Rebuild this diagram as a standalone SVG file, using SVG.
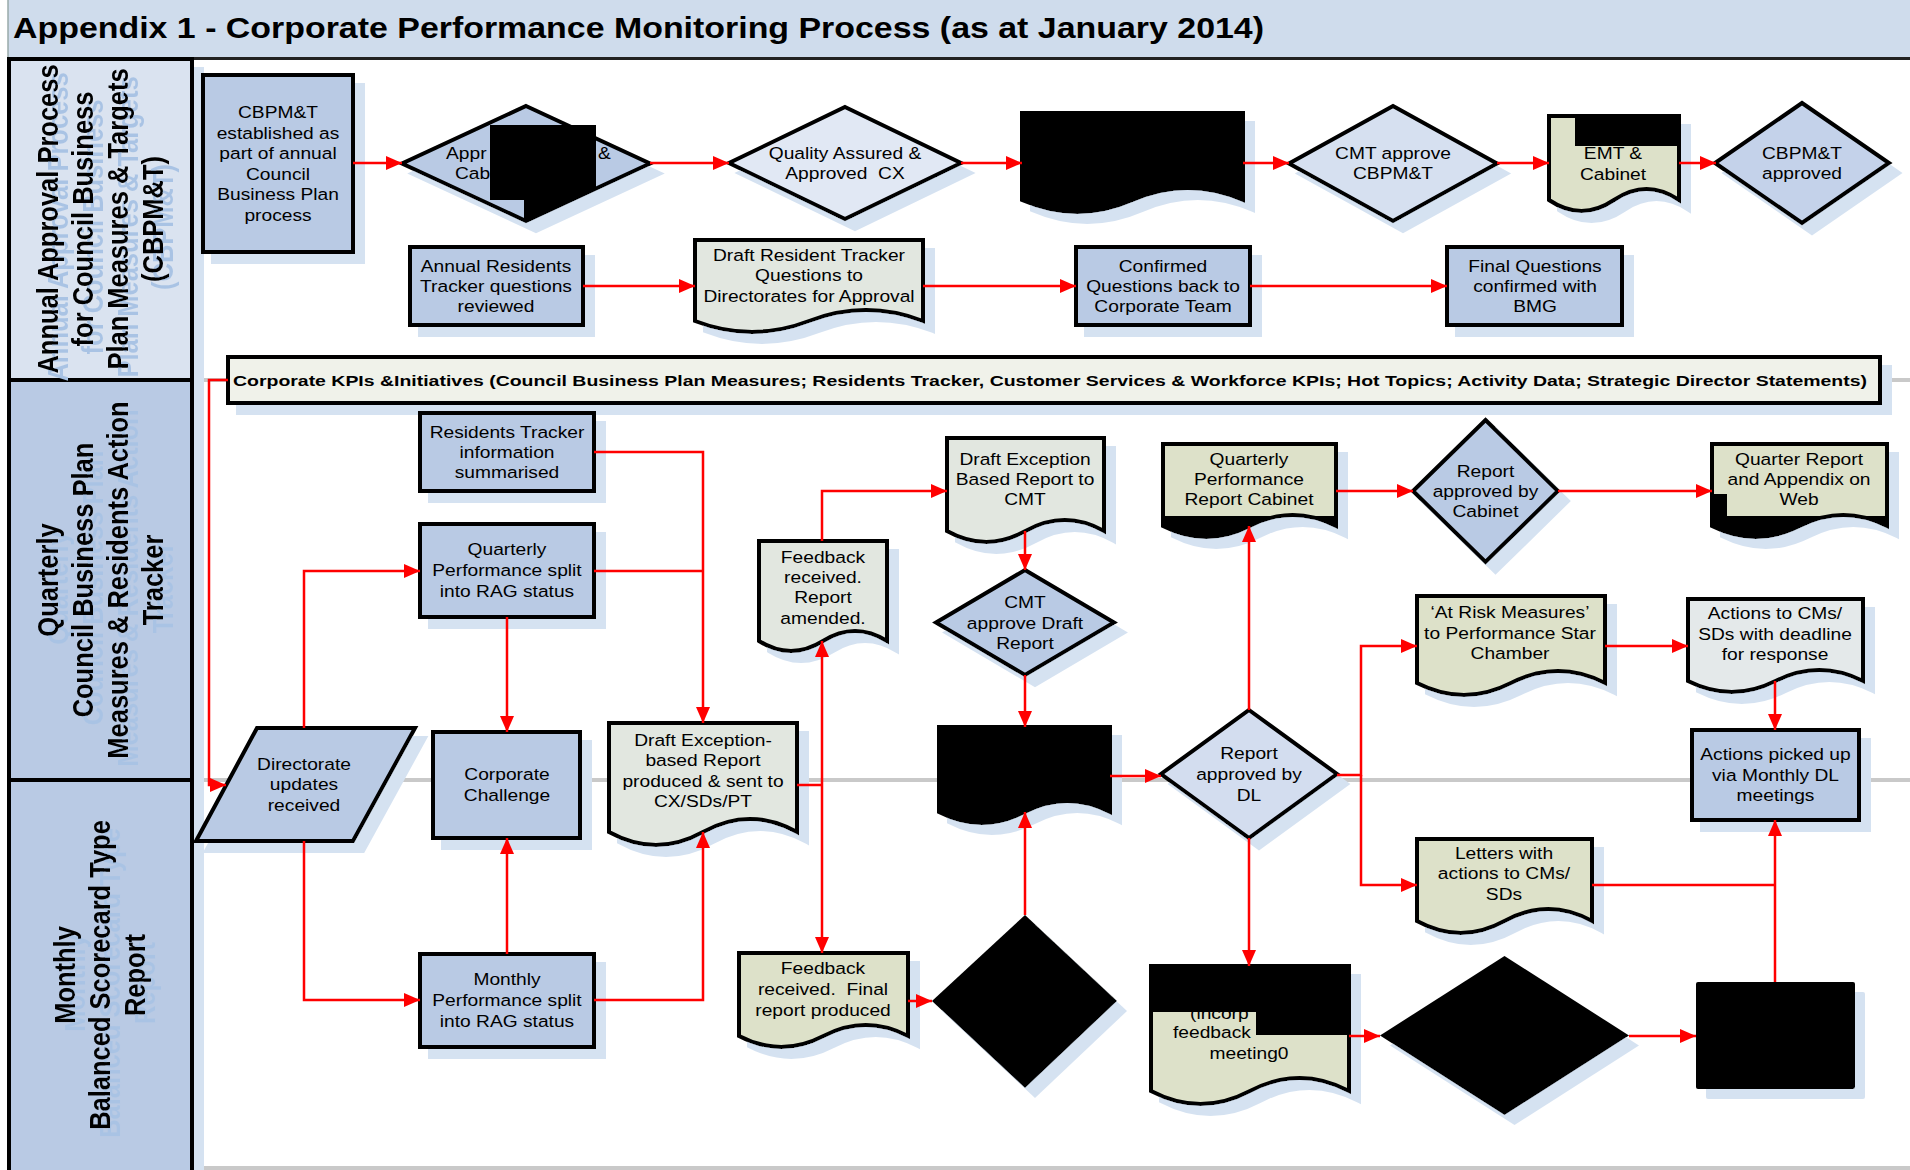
<svg xmlns="http://www.w3.org/2000/svg" width="1910" height="1170" viewBox="0 0 1910 1170">
<style>
.t{font-family:"Liberation Sans",Arial,sans-serif;font-size:17px;fill:#000;text-anchor:middle}
.ts{font-family:"Liberation Sans",Arial,sans-serif;font-size:17px;fill:#000;text-anchor:start}
.lane{font-family:"Liberation Sans",Arial,sans-serif;font-size:25.5px;font-weight:bold;fill:#000;text-anchor:middle}
.s{stroke:#000;stroke-width:4;stroke-linejoin:miter}
.mb{fill:#b9cae4}
.gr{fill:#e2e7e0}
.be{fill:#dde1c9}
.bk{fill:#000}
.c{fill:none;stroke:#ff0000;stroke-width:2.5}
.ca{fill:none;stroke:#ff0000;stroke-width:2.5;marker-end:url(#ah)}
.sep{stroke:#c9c9c9;stroke-width:4}
</style>
<defs>
<marker id="ah" viewBox="0 0 16 14" refX="16" refY="7" markerWidth="16" markerHeight="14" markerUnits="userSpaceOnUse" orient="auto"><path d="M0,0 L16,7 L0,14 Z" fill="#ff0000"/></marker>
<filter id="sh" x="-10%" y="-10%" width="130%" height="140%"><feFlood flood-color="#d5e2f1"/><feComposite in2="SourceAlpha" operator="in"/><feOffset dx="10" dy="10" result="s"/><feMerge><feMergeNode in="s"/><feMergeNode in="SourceGraphic"/></feMerge></filter>
<filter id="tsh" x="-10%" y="-10%" width="130%" height="130%"><feFlood flood-color="#a9c3e4"/><feComposite in2="SourceAlpha" operator="in"/><feOffset dx="10" dy="8" result="s"/><feMerge><feMergeNode in="s"/><feMergeNode in="SourceGraphic"/></feMerge></filter>
<clipPath id="cp8"><path d="M1163,444 H1336 V526 Q1292.8,504 1249.5,526 Q1206.3,548 1163,526 Z"/></clipPath>
<clipPath id="cp9"><path d="M1712,444 H1887 V526 Q1843.3,504 1799.5,526 Q1755.8,548 1712,526 Z"/></clipPath>
</defs>
<rect x="0" y="0" width="1910" height="1170" fill="#fff"/>

<g id="title">
<rect x="8" y="0" width="1902" height="58" fill="#cfdcec"/>
<line x1="8" y1="0" x2="8" y2="58" stroke="#9aa" stroke-width="1.5"/>
<line x1="8" y1="58.5" x2="1910" y2="58.5" stroke="#222" stroke-width="3"/>
<text x="13" y="38" font-family="Liberation Sans, Arial, sans-serif" font-size="29" font-weight="bold" textLength="1251" lengthAdjust="spacingAndGlyphs">Appendix 1 - Corporate Performance Monitoring Process (as at January 2014)</text>
</g>

<g id="separators">
<line class="sep" x1="194" y1="380" x2="1910" y2="380"/>
<line class="sep" x1="194" y1="780" x2="1910" y2="780"/>
<line class="sep" x1="194" y1="1168" x2="1910" y2="1168"/>
</g>

<g id="lanes">
<g filter="url(#sh)">
<rect class="s" x="9" y="59" width="183" height="321" fill="#dae3f0"/>
<rect class="s" x="9" y="380" width="183" height="400" fill="#b9cae4"/>
<rect class="s" x="9" y="780" width="183" height="394" fill="#b9cae4"/>
</g>
<g filter="url(#tsh)">
<text class="lane" transform="translate(100,219) scale(1.13,1) rotate(-90)"><tspan x="0" y="-37.5">Annual Approval Process</tspan><tspan x="0" y="-6.5">for Council Business</tspan><tspan x="0" y="24.5">Plan Measures &amp; Targets</tspan><tspan x="0" y="55.5">(CBPM&amp;T)</tspan></text>
<text class="lane" transform="translate(100,580) scale(1.13,1) rotate(-90)"><tspan x="0" y="-37.5">Quarterly</tspan><tspan x="0" y="-6.5">Council Business Plan</tspan><tspan x="0" y="24.5">Measures &amp; Residents Action</tspan><tspan x="0" y="55.5">Tracker</tspan></text>
<text class="lane" transform="translate(100,975) scale(1.13,1) rotate(-90)"><tspan x="0" y="-22">Monthly</tspan><tspan x="0" y="9">Balanced Scorecard Type</tspan><tspan x="0" y="40">Report</tspan></text>
</g>
</g>

<g id="n-cbpmt-established">
<rect class="s mb" x="203" y="75" width="150" height="177" filter="url(#sh)"/>
<text class="t" transform="translate(278,0) scale(1.13,1)"><tspan x="0" y="118">CBPM&amp;T</tspan><tspan x="0" y="138.6">established as</tspan><tspan x="0" y="159.2">part of annual</tspan><tspan x="0" y="179.8">Council</tspan><tspan x="0" y="200.4">Business Plan</tspan><tspan x="0" y="221">process</tspan></text>
</g>

<g id="n-approved-emt-cabinet">
<polygon class="s mb" points="526,106 650,163.5 526,221 402,163.5" filter="url(#sh)"/>
<text class="ts" transform="translate(446,0) scale(1.13,1)"><tspan x="0" y="159">Appr</tspan></text>
<text class="ts" transform="translate(455,0) scale(1.13,1)"><tspan x="0" y="179">Cab</tspan></text>
<text class="ts" transform="translate(598,0) scale(1.13,1)"><tspan x="0" y="159">&amp;</tspan></text>
<polygon class="bk" points="490,125 596,125 596,188 526,221 524,220 524,200 490,200"/>
</g>

<g id="n-quality-assured">
<polygon class="s" fill="#e1e8f4" points="845,107 961,163 845,219 729,163" filter="url(#sh)"/>
<text class="t" transform="translate(845,0) scale(1.13,1)" xml:space="preserve"><tspan x="0" y="159">Quality Assured &amp;</tspan><tspan x="0" y="179">Approved  CX</tspan></text>
</g>

<g id="n-redacted-doc-1">
<path class="s bk" d="M1022,113 H1243 V200 Q1187.8,176 1132.5,200 Q1077.3,224 1022,200 Z" filter="url(#sh)"/>
</g>

<g id="n-cmt-approve-cbpmt">
<polygon class="s" fill="#d6e0f0" points="1393,106 1497,163.5 1393,221 1289,163.5" filter="url(#sh)"/>
<text class="t" transform="translate(1393,0) scale(1.13,1)"><tspan x="0" y="159">CMT approve</tspan><tspan x="0" y="179">CBPM&amp;T</tspan></text>
</g>

<g id="n-emt-cabinet">
<path class="s be" d="M1549,116 H1679 V200 Q1646.5,178 1614,200 Q1581.5,222 1549,200 Z" filter="url(#sh)"/>
<text class="t" transform="translate(1613,0) scale(1.13,1)"><tspan x="0" y="159">EMT &amp;</tspan><tspan x="0" y="180">Cabinet</tspan></text>
<rect class="bk" x="1575" y="114" width="106" height="32"/>
</g>

<g id="n-cbpmt-approved">
<polygon class="s" fill="#c4d2ea" points="1802,103 1889,163 1802,223 1715,163" filter="url(#sh)"/>
<text class="t" transform="translate(1802,0) scale(1.13,1)"><tspan x="0" y="159">CBPM&amp;T</tspan><tspan x="0" y="179">approved</tspan></text>
</g>

<g id="n-annual-residents">
<rect class="s mb" x="410" y="247" width="173" height="78" filter="url(#sh)"/>
<text class="t" transform="translate(496,0) scale(1.13,1)"><tspan x="0" y="272">Annual Residents</tspan><tspan x="0" y="292">Tracker questions</tspan><tspan x="0" y="312">reviewed</tspan></text>
</g>

<g id="n-draft-resident-tracker">
<path class="s gr" d="M695,240 H923 V321 Q866,299 809,321 Q752,343 695,321 Z" filter="url(#sh)"/>
<text class="t" transform="translate(809,0) scale(1.13,1)"><tspan x="0" y="261">Draft Resident Tracker</tspan><tspan x="0" y="281">Questions to</tspan><tspan x="0" y="302">Directorates for Approval</tspan></text>
</g>

<g id="n-confirmed-questions">
<rect class="s mb" x="1076" y="247" width="174" height="78" filter="url(#sh)"/>
<text class="t" transform="translate(1163,0) scale(1.13,1)"><tspan x="0" y="272">Confirmed</tspan><tspan x="0" y="292">Questions back to</tspan><tspan x="0" y="312">Corporate Team</tspan></text>
</g>

<g id="n-final-questions">
<rect class="s mb" x="1447" y="247" width="175" height="78" filter="url(#sh)"/>
<text class="t" transform="translate(1535,0) scale(1.13,1)"><tspan x="0" y="272">Final Questions</tspan><tspan x="0" y="292">confirmed with</tspan><tspan x="0" y="312">BMG</tspan></text>
</g>

<g id="n-kpi-banner">
<rect class="s" fill="#f0f2ea" x="228" y="357" width="1652" height="46" filter="url(#sh)"/>
<text x="233" y="385.5" font-family="Liberation Sans, Arial, sans-serif" font-size="15.5" font-weight="bold" textLength="1634" lengthAdjust="spacingAndGlyphs">Corporate KPIs &amp;Initiatives (Council Business Plan Measures; Residents Tracker, Customer Services &amp; Workforce KPIs; Hot Topics; Activity Data; Strategic Director Statements)</text>
</g>

<g id="n-residents-tracker-info">
<rect class="s mb" x="420" y="413" width="174" height="78" filter="url(#sh)"/>
<text class="t" transform="translate(507,0) scale(1.13,1)"><tspan x="0" y="438">Residents Tracker</tspan><tspan x="0" y="458">information</tspan><tspan x="0" y="478">summarised</tspan></text>
</g>

<g id="n-quarterly-rag">
<rect class="s mb" x="420" y="524" width="174" height="93" filter="url(#sh)"/>
<text class="t" transform="translate(507,0) scale(1.13,1)"><tspan x="0" y="555">Quarterly</tspan><tspan x="0" y="576">Performance split</tspan><tspan x="0" y="597">into RAG status</tspan></text>
</g>

<g id="n-directorate-updates">
<polygon class="s mb" points="257,728 415,728 353,841 196,841" filter="url(#sh)"/>
<text class="t" transform="translate(304,0) scale(1.13,1)"><tspan x="0" y="770">Directorate</tspan><tspan x="0" y="790.5">updates</tspan><tspan x="0" y="811">received</tspan></text>
</g>

<g id="n-corporate-challenge">
<rect class="s mb" x="433" y="732" width="147" height="106" filter="url(#sh)"/>
<text class="t" transform="translate(507,0) scale(1.13,1)"><tspan x="0" y="780">Corporate</tspan><tspan x="0" y="801">Challenge</tspan></text>
</g>

<g id="n-monthly-rag">
<rect class="s mb" x="420" y="954" width="174" height="93" filter="url(#sh)"/>
<text class="t" transform="translate(507,0) scale(1.13,1)"><tspan x="0" y="985">Monthly</tspan><tspan x="0" y="1006">Performance split</tspan><tspan x="0" y="1027">into RAG status</tspan></text>
</g>

<g id="n-draft-exception-based">
<path class="s gr" d="M609,723 H797 V832 Q750,806 703,832 Q656,858 609,832 Z" filter="url(#sh)"/>
<text class="t" transform="translate(703,0) scale(1.13,1)"><tspan x="0" y="746">Draft Exception-</tspan><tspan x="0" y="766">based Report</tspan><tspan x="0" y="787">produced &amp; sent to</tspan><tspan x="0" y="807">CX/SDs/PT</tspan></text>
</g>

<g id="n-feedback-amended">
<path class="s gr" d="M759,541 H887 V641 Q855,621 823,641 Q791,661 759,641 Z" filter="url(#sh)"/>
<text class="t" transform="translate(823,0) scale(1.13,1)"><tspan x="0" y="563">Feedback</tspan><tspan x="0" y="583">received.</tspan><tspan x="0" y="603">Report</tspan><tspan x="0" y="624">amended.</tspan></text>
</g>

<g id="n-draft-exception-cmt">
<path class="s gr" d="M947,438 H1104 V531 Q1064.8,509 1025.5,531 Q986.3,553 947,531 Z" filter="url(#sh)"/>
<text class="t" transform="translate(1025,0) scale(1.13,1)"><tspan x="0" y="465">Draft Exception</tspan><tspan x="0" y="485">Based Report to</tspan><tspan x="0" y="505">CMT</tspan></text>
</g>

<g id="n-cmt-approve-draft">
<polygon class="s mb" points="1025,570 1114,622.5 1025,675 936,622.5" filter="url(#sh)"/>
<text class="t" transform="translate(1025,0) scale(1.13,1)"><tspan x="0" y="608">CMT</tspan><tspan x="0" y="629">approve Draft</tspan><tspan x="0" y="649">Report</tspan></text>
</g>

<g id="n-redacted-doc-2">
<path class="s bk" d="M939,727 H1110 V812 Q1067.3,790 1024.5,812 Q981.8,834 939,812 Z" filter="url(#sh)"/>
</g>

<g id="n-approved-dl">
<polygon class="s" fill="#d3ddef" points="1249,710 1337,774 1249,838 1161,774" filter="url(#sh)"/>
<text class="t" transform="translate(1249,0) scale(1.13,1)"><tspan x="0" y="759">Report</tspan><tspan x="0" y="780">approved by</tspan><tspan x="0" y="801">DL</tspan></text>
</g>

<g id="n-qpr-cabinet">
<path class="s be" d="M1163,444 H1336 V526 Q1292.8,504 1249.5,526 Q1206.3,548 1163,526 Z" filter="url(#sh)"/>
<text class="t" transform="translate(1249,0) scale(1.13,1)"><tspan x="0" y="465">Quarterly</tspan><tspan x="0" y="485">Performance</tspan><tspan x="0" y="505">Report Cabinet</tspan></text>
<rect class="bk" x="1160" y="516" width="180" height="40" clip-path="url(#cp8)"/>
</g>

<g id="n-approved-cabinet">
<polygon class="s mb" points="1485.5,420 1558,491 1485.5,562 1413,491" filter="url(#sh)"/>
<text class="t" transform="translate(1485.5,0) scale(1.13,1)"><tspan x="0" y="477">Report</tspan><tspan x="0" y="497">approved by</tspan><tspan x="0" y="517">Cabinet</tspan></text>
</g>

<g id="n-quarter-report-web">
<path class="s be" d="M1712,444 H1887 V526 Q1843.3,504 1799.5,526 Q1755.8,548 1712,526 Z" filter="url(#sh)"/>
<text class="t" transform="translate(1799,0) scale(1.13,1)"><tspan x="0" y="465">Quarter Report</tspan><tspan x="0" y="485">and Appendix on</tspan><tspan x="0" y="505">Web</tspan></text>
<g clip-path="url(#cp9)"><rect class="bk" x="1709" y="516" width="182" height="40"/><rect class="bk" x="1709" y="494" width="18" height="24"/></g>
</g>

<g id="n-at-risk">
<path class="s be" d="M1417,596 H1605 V683 Q1558,659 1511,683 Q1464,707 1417,683 Z" filter="url(#sh)"/>
<text class="t" transform="translate(1510,0) scale(1.13,1)"><tspan x="0" y="618">‘At Risk Measures’</tspan><tspan x="0" y="639">to Performance Star</tspan><tspan x="0" y="659">Chamber</tspan></text>
</g>

<g id="n-actions-cms">
<path class="s" fill="#e4e9ea" d="M1688,599 H1863 V681 Q1819.3,659 1775.5,681 Q1731.8,703 1688,681 Z" filter="url(#sh)"/>
<text class="t" transform="translate(1775,0) scale(1.13,1)"><tspan x="0" y="619">Actions to CMs/</tspan><tspan x="0" y="640">SDs with deadline</tspan><tspan x="0" y="660">for response</tspan></text>
</g>

<g id="n-actions-picked-up">
<rect class="s mb" x="1692" y="730" width="167" height="90" filter="url(#sh)"/>
<text class="t" transform="translate(1775.5,0) scale(1.13,1)"><tspan x="0" y="760">Actions picked up</tspan><tspan x="0" y="781">via Monthly DL</tspan><tspan x="0" y="801">meetings</tspan></text>
</g>

<g id="n-letters">
<path class="s be" d="M1417,839 H1592 V921 Q1548.3,897 1504.5,921 Q1460.8,945 1417,921 Z" filter="url(#sh)"/>
<text class="t" transform="translate(1504,0) scale(1.13,1)"><tspan x="0" y="859">Letters with</tspan><tspan x="0" y="879">actions to CMs/</tspan><tspan x="0" y="900">SDs</tspan></text>
</g>

<g id="n-feedback-final">
<path class="s be" d="M739,953 H908 V1036 Q865.8,1014 823.5,1036 Q781.3,1058 739,1036 Z" filter="url(#sh)"/>
<text class="t" transform="translate(823,0) scale(1.13,1)" xml:space="preserve"><tspan x="0" y="974">Feedback</tspan><tspan x="0" y="995">received.  Final</tspan><tspan x="0" y="1016">report produced</tspan></text>
</g>

<g id="n-redacted-diamond-1">
<polygon class="bk" points="1025,915 1117,1001 1025,1088 932,1001" filter="url(#sh)"/>
</g>

<g id="n-incorp-feedback">
<path class="s be" d="M1151,966 H1349 V1091 Q1299.5,1065 1250,1091 Q1200.5,1117 1151,1091 Z" filter="url(#sh)"/>
<text class="ts" transform="translate(1190,0) scale(1.13,1)"><tspan x="0" y="1019">(incorp</tspan></text>
<text class="ts" transform="translate(1173,0) scale(1.13,1)"><tspan x="0" y="1038">feedback</tspan></text>
<text class="t" transform="translate(1249,0) scale(1.13,1)"><tspan x="0" y="1059">meeting0</tspan></text>
<rect class="bk" x="1149" y="964" width="202" height="48"/>
<rect class="bk" x="1256" y="1010" width="95" height="25"/>
</g>

<g id="n-redacted-diamond-2">
<polygon class="bk" points="1504.5,956 1629,1035.5 1504.5,1115 1380,1035.5" filter="url(#sh)"/>
</g>

<g id="n-redacted-box">
<rect class="bk" x="1696" y="982" width="159" height="107" rx="2" filter="url(#sh)"/>
</g>

<g id="connectors">
<path class="ca" d="M353,163 H402"/>
<path class="ca" d="M650,163 H729"/>
<path class="ca" d="M961,163 H1022"/>
<path class="ca" d="M1243,163 H1289"/>
<path class="ca" d="M1497,163 H1549"/>
<path class="ca" d="M1679,163 H1716"/>
<path class="ca" d="M583,286 H695"/>
<path class="ca" d="M923,286 H1076"/>
<path class="ca" d="M1250,286 H1447"/>
<path class="ca" d="M228,380 H209 V785 H226"/>
<path class="ca" d="M304,728 V571 H420"/>
<path class="ca" d="M304,841 V1000 H420"/>
<path class="ca" d="M507,617 V732"/>
<path class="ca" d="M507,954 V838"/>
<path class="ca" d="M594,452 H703 V723"/>
<path class="c" d="M594,571 H703"/>
<path class="ca" d="M594,1000 H703 V832"/>
<path class="c" d="M797,785 H822"/>
<path class="ca" d="M822,785 V641"/>
<path class="ca" d="M822,785 V953"/>
<path class="ca" d="M822,541 V491 H947"/>
<path class="ca" d="M1025,531 V570"/>
<path class="ca" d="M1025,675 V727"/>
<path class="ca" d="M1025,915 V812"/>
<path class="ca" d="M908,1001 H932"/>
<path class="ca" d="M1110,776 H1161"/>
<path class="ca" d="M1249,710 V526"/>
<path class="ca" d="M1336,491 H1413"/>
<path class="ca" d="M1558,491 H1712"/>
<path class="ca" d="M1337,775 H1361 V646 H1417"/>
<path class="ca" d="M1361,775 V885 H1417"/>
<path class="ca" d="M1605,646 H1688"/>
<path class="ca" d="M1775,681 V730"/>
<path class="ca" d="M1775,982 V820"/>
<path class="c" d="M1592,885 H1775"/>
<path class="ca" d="M1249,838 V966"/>
<path class="ca" d="M1349,1036 H1380"/>
<path class="ca" d="M1629,1036 H1696"/>
</g>
</svg>
